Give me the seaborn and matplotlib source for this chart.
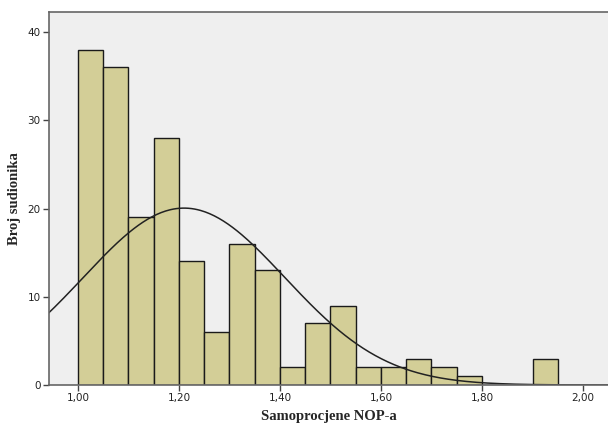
import numpy as np
import matplotlib
matplotlib.use("Agg")
import matplotlib.pyplot as plt
import seaborn as sns

# histogram bins (lower edges) and counts
bin_edges = [1.00, 1.05, 1.10, 1.15, 1.20, 1.25, 1.30, 1.35, 1.40, 1.45,
             1.50, 1.55, 1.60, 1.65, 1.70, 1.75, 1.80, 1.85, 1.90, 1.95]
counts = [38, 36, 19, 28, 14, 6, 16, 13, 2, 7, 9, 2, 2, 3, 2, 1, 0, 0, 3]

# normal curve parameters
mean_val = 1.21
sd_val = 0.20
n_total = sum(counts)
bin_w = 0.05

x_ticks = [1.00, 1.20, 1.40, 1.60, 1.80, 2.00]
x_ticklabels = ["1,00", "1,20", "1,40", "1,60", "1,80", "2,00"]
y_ticks = [0, 10, 20, 30, 40]

sns.set_style("white")
plt.rcParams["font.family"] = ["DejaVu Sans"]

fig = plt.figure(figsize=(6.08, 4.26), dpi=100)
ax = fig.add_axes([49 / 608, 41 / 426, 559 / 608, 373 / 426])
ax.set_facecolor("#efefef")

centers = [e + bin_w / 2 for e in bin_edges[:-1]]
sns.histplot(x=centers, weights=counts, bins=bin_edges, ax=ax,
             color="#d3ce97", edgecolor="#1a1a1a", linewidth=1.0, alpha=1)

xs = np.linspace(0.9, 2.1, 400)
ys = n_total * bin_w / (sd_val * np.sqrt(2 * np.pi)) * np.exp(-(xs - mean_val) ** 2 / (2 * sd_val ** 2))
sns.lineplot(x=xs, y=ys, ax=ax, color="#222222", linewidth=1.1)

ax.set_xlim(0.9426, 2.0495)
ax.set_ylim(0, 42.27)
ax.set_xticks(x_ticks)
ax.set_xticklabels(x_ticklabels)
ax.set_yticks(y_ticks)
ax.tick_params(axis="both", direction="out", length=4, width=1, color="#444444",
               labelsize=7.5, labelcolor="#222222", pad=2, left=True, bottom=True)

for s in ["top", "left", "bottom"]:
    ax.spines[s].set_color("#666666")
    ax.spines[s].set_linewidth(1.2)
ax.spines["right"].set_visible(False)

ax.set_xlabel("Samoprocjene NOP-a", family="Liberation Serif", fontweight="bold",
              fontsize=10.5, labelpad=5)
ax.set_ylabel("Broj sudionika", family="Liberation Serif", fontweight="bold",
              fontsize=10.5, labelpad=5)

fig.savefig("out.png", dpi=100)
